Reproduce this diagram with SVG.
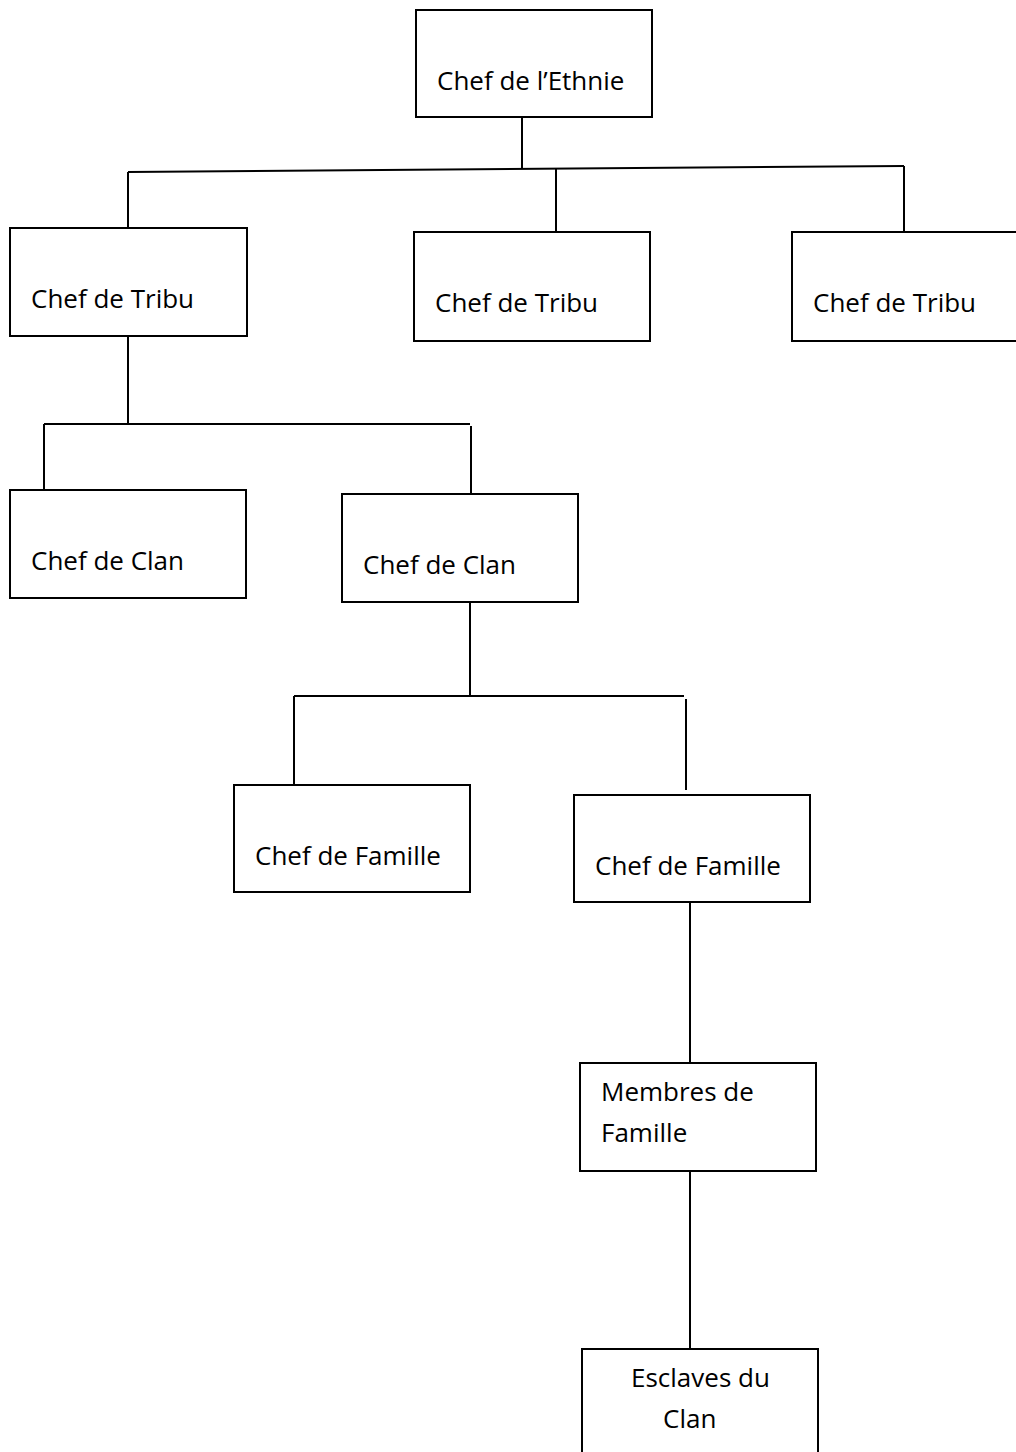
<svg xmlns="http://www.w3.org/2000/svg" width="1016" height="1452" viewBox="0 0 1016 1452">
<style>
rect{fill:#fff;stroke:#000;stroke-width:2}
line{stroke:#000;stroke-width:2}
text{font-family:"Open Sans","Noto Sans",sans-serif;font-size:26px;fill:#000}
</style>
<rect x="0" y="0" width="1016" height="1452" style="stroke:none"/>
<g id="connectors">
<line x1="522" y1="117" x2="522" y2="169"/>
<line x1="128" y1="172" x2="904" y2="166"/>
<line x1="128" y1="172" x2="128" y2="232"/>
<line x1="556" y1="169" x2="556" y2="232"/>
<line x1="904" y1="166" x2="904" y2="232"/>
<line x1="128" y1="336" x2="128" y2="425"/>
<line x1="44" y1="424" x2="470" y2="424"/>
<line x1="44" y1="424" x2="44" y2="493"/>
<line x1="471" y1="426" x2="471" y2="494"/>
<line x1="470" y1="603" x2="470" y2="696"/>
<line x1="294" y1="696" x2="684" y2="696"/>
<line x1="294" y1="696" x2="294" y2="788"/>
<line x1="686" y1="699" x2="686" y2="790"/>
<line x1="690" y1="902" x2="690" y2="1063"/>
<line x1="690" y1="1171" x2="690" y2="1349"/>
</g>
<g id="n-ethnie"><rect x="416" y="10" width="236" height="107"/><text x="437" y="90">Chef de l’Ethnie</text></g>
<g id="n-tribu1"><rect x="10" y="228" width="237" height="108"/><text x="31" y="308">Chef de Tribu</text></g>
<g id="n-tribu2"><rect x="414" y="232" width="236" height="109"/><text x="435" y="312">Chef de Tribu</text></g>
<g id="n-tribu3"><rect x="792" y="232" width="236" height="109"/><text x="813" y="312">Chef de Tribu</text></g>
<g id="n-clan1"><rect x="10" y="490" width="236" height="108"/><text x="31" y="570">Chef de Clan</text></g>
<g id="n-clan2"><rect x="342" y="494" width="236" height="108"/><text x="363" y="574">Chef de Clan</text></g>
<g id="n-famille1"><rect x="234" y="785" width="236" height="107"/><text x="255" y="865">Chef de Famille</text></g>
<g id="n-famille2"><rect x="574" y="795" width="236" height="107"/><text x="595" y="875">Chef de Famille</text></g>
<g id="n-membres"><rect x="580" y="1063" width="236" height="108"/><text x="601" y="1101">Membres de</text><text x="601" y="1142">Famille</text></g>
<g id="n-esclaves"><rect x="582" y="1349" width="236" height="120"/><text x="631" y="1387">Esclaves du</text><text x="663" y="1428">Clan</text></g>
</svg>
